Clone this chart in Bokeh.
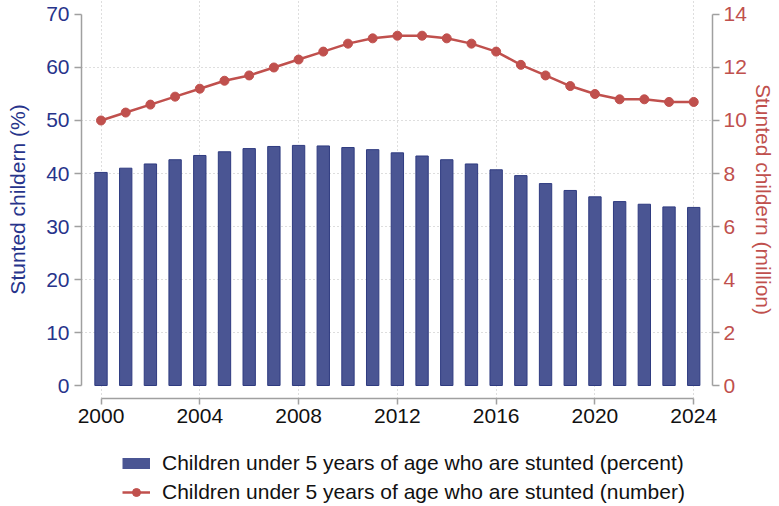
from bokeh.plotting import figure
from bokeh.layouts import column
from bokeh.models import Range1d, LinearAxis, FixedTicker, Legend, LegendItem
from bokeh.embed import file_html
from bokeh.resources import INLINE

years = list(range(2000, 2025))
stunted_pct = [40.2, 41.0, 41.8, 42.6, 43.4, 44.1, 44.7, 45.1, 45.3, 45.2, 44.9, 44.5, 43.9,
               43.3, 42.6, 41.8, 40.7, 39.6, 38.1, 36.8, 35.6, 34.7, 34.2, 33.7, 33.6]
stunted_num = [10.0, 10.3, 10.6, 10.9, 11.2, 11.5, 11.7, 12.0, 12.3, 12.6, 12.9, 13.1, 13.2,
               13.2, 13.1, 12.9, 12.6, 12.1, 11.7, 11.3, 11.0, 10.8, 10.8, 10.7, 10.7]
x_ticks = [2000, 2004, 2008, 2012, 2016, 2020, 2024]
left_ticks = [0, 10, 20, 30, 40, 50, 60, 70]
right_ticks = [0, 2, 4, 6, 8, 10, 12, 14]
grid_ticks = [10, 20, 30, 40, 50, 60]
label_pct = "Children under 5 years of age who are stunted (percent)"
label_num = "Children under 5 years of age who are stunted (number)"
left_title = "Stunted childern (%)"
right_title = "Stunted childern (million)"

FONT = "Liberation Sans"
NAVY = "#27348b"
RED = "#c0504d"
BAR = "#4a5593"
AXIS = "#a0a0a0"

p = figure(width=779, height=436, output_backend="svg", toolbar_location=None,
           x_range=Range1d(1999.21, 2024.76), y_range=Range1d(-2.45, 72.64),
           min_border_left=81, min_border_right=67, min_border_top=0, min_border_bottom=38)
p.outline_line_color = None
p.background_fill_color = "white"
p.extra_y_ranges = {"right": Range1d(-0.49, 14.528)}

bars = p.vbar(x=years, top=stunted_pct, bottom=0, width=0.5, fill_color=BAR,
              line_color="#2f3b80", line_width=1)
ln = p.line(x=years, y=stunted_num, y_range_name="right", line_color=RED, line_width=2.5)
pts = p.scatter(x=years, y=stunted_num, y_range_name="right", size=9, fill_color=RED,
                line_color=RED)

# x axis
xa = p.xaxis[0]
xa.ticker = FixedTicker(ticks=x_ticks)
xa.bounds = (2000, 2024)
xa.axis_line_color = AXIS
xa.axis_line_width = 1.5
xa.major_tick_line_color = AXIS
xa.major_tick_line_width = 1.5
xa.major_tick_out = 6
xa.major_tick_in = 0
xa.minor_tick_line_color = None
xa.major_label_text_font = FONT
xa.major_label_text_font_size = "21px"
xa.major_label_text_color = "#111111"
xa.major_label_standoff = 4

# left axis
ya = p.yaxis[0]
ya.ticker = FixedTicker(ticks=left_ticks)
ya.bounds = (0, 70)
ya.axis_line_color = AXIS
ya.axis_line_width = 1.5
ya.major_tick_line_color = AXIS
ya.major_tick_line_width = 1.5
ya.major_tick_out = 7
ya.major_tick_in = 0
ya.minor_tick_line_color = None
ya.major_label_text_font = FONT
ya.major_label_text_font_size = "21px"
ya.major_label_text_color = NAVY
ya.major_label_standoff = 5
ya.axis_label = left_title
ya.axis_label_text_font = FONT
ya.axis_label_text_font_size = "21px"
ya.axis_label_text_font_style = "normal"
ya.axis_label_text_color = NAVY
ya.axis_label_standoff = 14

# right axis
ra = LinearAxis(y_range_name="right", ticker=FixedTicker(ticks=right_ticks), bounds=(0, 14))
ra.axis_line_color = AXIS
ra.axis_line_width = 1.5
ra.major_tick_line_color = AXIS
ra.major_tick_line_width = 1.5
ra.major_tick_out = 7
ra.major_tick_in = 0
ra.minor_tick_line_color = None
ra.major_label_text_font = FONT
ra.major_label_text_font_size = "21px"
ra.major_label_text_color = RED
ra.major_label_standoff = 4
ra.axis_label = right_title
ra.axis_label_text_font = FONT
ra.axis_label_text_font_size = "21px"
ra.axis_label_text_font_style = "normal"
ra.axis_label_text_color = RED
ra.axis_label_standoff = 2
p.add_layout(ra, "right")

# grids
p.ygrid.ticker = FixedTicker(ticks=grid_ticks)
p.ygrid.grid_line_color = "#bdbdbd"
p.ygrid.grid_line_dash = "1 3"
p.ygrid.grid_line_width = 1
p.xgrid.grid_line_color = "#bdbdbd"
p.xgrid.grid_line_dash = "1 3"
p.xgrid.grid_line_width = 1

# legend strip below the chart (frame aligned with the chart frame)
lg = figure(width=779, height=70, output_backend="svg", toolbar_location=None,
            x_range=Range1d(0, 1), y_range=Range1d(0, 1),
            x_axis_location=None, y_axis_location=None,
            min_border_left=81, min_border_right=67, min_border_top=0, min_border_bottom=0)
lg.outline_line_color = None
lg.xgrid.visible = False
lg.ygrid.visible = False
nan = float("nan")
sw = lg.line(x=[nan], y=[nan], line_color=BAR, line_width=11, line_cap="butt")
lln = lg.line(x=[nan], y=[nan], line_color=RED, line_width=2.5)
lpt = lg.scatter(x=[nan], y=[nan], size=9, fill_color=RED, line_color=RED)

legend = Legend(items=[LegendItem(label=label_pct, renderers=[sw]),
                       LegendItem(label=label_num, renderers=[lln, lpt])],
                location=(41, 2), orientation="vertical",
                margin=0, padding=0, spacing=5, label_height=20, glyph_height=20,
                glyph_width=28, label_standoff=12,
                label_text_font=FONT, label_text_font_size="21px",
                label_text_color="#111111", border_line_color=None,
                background_fill_alpha=0)
lg.add_layout(legend, "center")

open("out.html", "w").write(file_html(column(p, lg, spacing=0), INLINE))
